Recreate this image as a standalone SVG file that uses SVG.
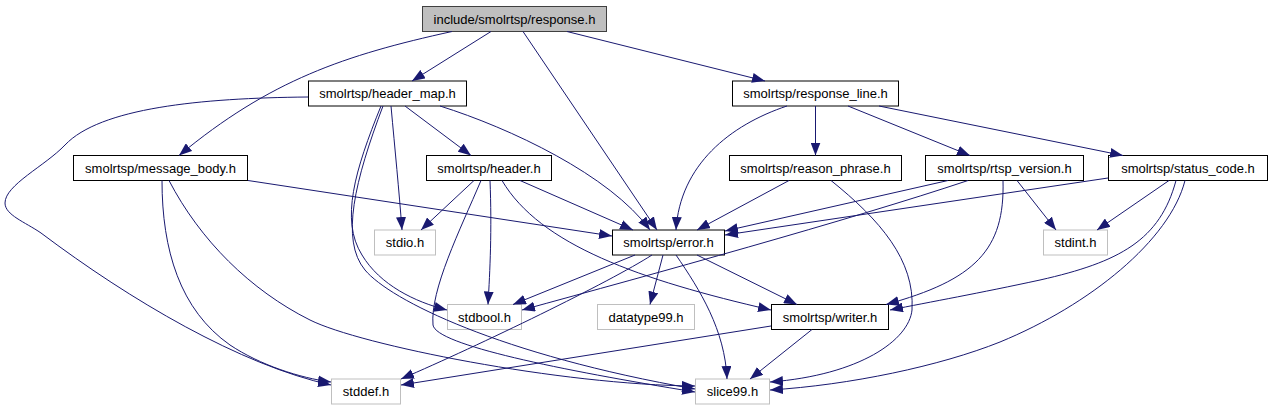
<svg xmlns="http://www.w3.org/2000/svg" width="1272" height="411" viewBox="0 0 1272 411">
<defs>
<marker id="ah" markerUnits="userSpaceOnUse" markerWidth="13" markerHeight="10" viewBox="0 0 13 10" refX="13" refY="5" orient="auto">
<path d="M0,0 L13,5 L0,10 z" fill="#191970"/>
</marker>
<style>
.n rect{fill:#fff;stroke:#000;stroke-width:1}
.n.ext rect{stroke:#bfbfbf}
.n.root rect{fill:#bfbfbf;stroke:#404040}
.n text{font-family:"Liberation Sans",Arial,Helvetica,sans-serif;font-size:13px;fill:#000;text-anchor:middle}
#edges path{fill:none;stroke:#191970;stroke-width:1;marker-end:url(#ah)}
</style>
</defs>
<rect width="1272" height="411" fill="#fff"/>
<g id="n_response" class="n root"><rect x="422.5" y="6.5" width="184" height="25"/><text x="514.5" y="23.5">include/smolrtsp/response.h</text></g>
<g id="n_header_map" class="n"><rect x="308.5" y="81" width="158" height="25"/><text x="387.5" y="98">smolrtsp/header_map.h</text></g>
<g id="n_response_line" class="n"><rect x="732.5" y="81" width="166" height="25"/><text x="815.5" y="98">smolrtsp/response_line.h</text></g>
<g id="n_message_body" class="n"><rect x="73.5" y="155.5" width="174" height="25"/><text x="160.5" y="172.5">smolrtsp/message_body.h</text></g>
<g id="n_header" class="n"><rect x="426.5" y="155.5" width="125" height="25"/><text x="489" y="172.5">smolrtsp/header.h</text></g>
<g id="n_reason_phrase" class="n"><rect x="729.5" y="155.5" width="172" height="25"/><text x="815.5" y="172.5">smolrtsp/reason_phrase.h</text></g>
<g id="n_rtsp_version" class="n"><rect x="925.5" y="155.5" width="158" height="25"/><text x="1004.5" y="172.5">smolrtsp/rtsp_version.h</text></g>
<g id="n_status_code" class="n"><rect x="1108.5" y="155.5" width="159" height="25"/><text x="1188" y="172.5">smolrtsp/status_code.h</text></g>
<g id="n_stdio" class="n ext"><rect x="374.5" y="230" width="61" height="25"/><text x="405" y="247">stdio.h</text></g>
<g id="n_error" class="n"><rect x="612.5" y="230" width="112" height="25"/><text x="668.5" y="247">smolrtsp/error.h</text></g>
<g id="n_stdint" class="n ext"><rect x="1043.5" y="230" width="64" height="25"/><text x="1075.5" y="247">stdint.h</text></g>
<g id="n_stdbool" class="n ext"><rect x="447.5" y="304.5" width="74" height="25"/><text x="484.5" y="321.5">stdbool.h</text></g>
<g id="n_datatype99" class="n ext"><rect x="597.5" y="304.5" width="97" height="25"/><text x="646" y="321.5">datatype99.h</text></g>
<g id="n_writer" class="n"><rect x="771.5" y="304.5" width="117" height="25"/><text x="830" y="321.5">smolrtsp/writer.h</text></g>
<g id="n_stddef" class="n ext"><rect x="331.5" y="379" width="69" height="25"/><text x="366" y="396">stddef.h</text></g>
<g id="n_slice99" class="n ext"><rect x="695.5" y="379" width="74" height="25"/><text x="732.5" y="396">slice99.h</text></g>
<g id="edges">
<path d="M491,31.5 L412,81"/>
<path d="M452,31.5 C345,55 270,80 179,155.5"/>
<path d="M523,31.5 L657,230"/>
<path d="M567,31.5 L765,81"/>
<path d="M308,97 C200,98 100,108 65,145 C45,166 5,185 5,203 C5,215 25,222 41,233 C130,300 240,365 331,385"/>
<path d="M405,106 L471,155.5"/>
<path d="M440,106 C510,128 610,175 650,230"/>
<path d="M391,106 C395,150 399,190 402,230"/>
<path d="M381,106 C355,170 340,220 362,255 C380,285 415,302 447,310"/>
<path d="M383,106 C355,180 340,240 365,270 C390,300 500,355 695,389"/>
<path d="M248,180.5 L612,236"/>
<path d="M162,180.5 C162,250 180,310 230,345 C260,365 300,378 331,382"/>
<path d="M169,180.5 C200,240 250,290 310,320 C360,345 560,385 695,386"/>
<path d="M474,180.5 L421,230"/>
<path d="M481,180.5 C460,230 430,290 433,325 C436,345 560,370 695,392"/>
<path d="M490,180.5 C492,230 490,270 488,304.5"/>
<path d="M502,180.5 C540,245 640,280 771,310"/>
<path d="M520,180.5 L633,230"/>
<path d="M787,106 C730,125 680,165 676,230"/>
<path d="M815.5,106 L815.5,155.5"/>
<path d="M848,106 L970,155.5"/>
<path d="M879,106 L1123,155.5"/>
<path d="M789,180.5 L697,230"/>
<path d="M831,180.5 C880,220 915,260 912,310 C909,340 860,375 770,382"/>
<path d="M948,180.5 L725,231"/>
<path d="M968,180.5 C850,220 650,275 522,310"/>
<path d="M1003,180.5 C1005,250 975,280 886,304.5"/>
<path d="M1017,180.5 L1056,230"/>
<path d="M1108,178 L725,235"/>
<path d="M1169,180.5 L1097,230"/>
<path d="M1176,180.5 C1160,240 1120,262 1040,280 C980,293 930,302 890,310"/>
<path d="M1185,180.5 C1170,240 1090,305 1000,342 C940,366 850,385 770,390"/>
<path d="M635,255 L513,304.5"/>
<path d="M652,255 C610,282 480,345 401,379"/>
<path d="M663,255 L650,304.5"/>
<path d="M676,255 C700,290 725,330 727,379"/>
<path d="M697,255 L797,304.5"/>
<path d="M771,326 L401,385"/>
<path d="M812,329.5 L750,379"/>
</g>
</svg>
